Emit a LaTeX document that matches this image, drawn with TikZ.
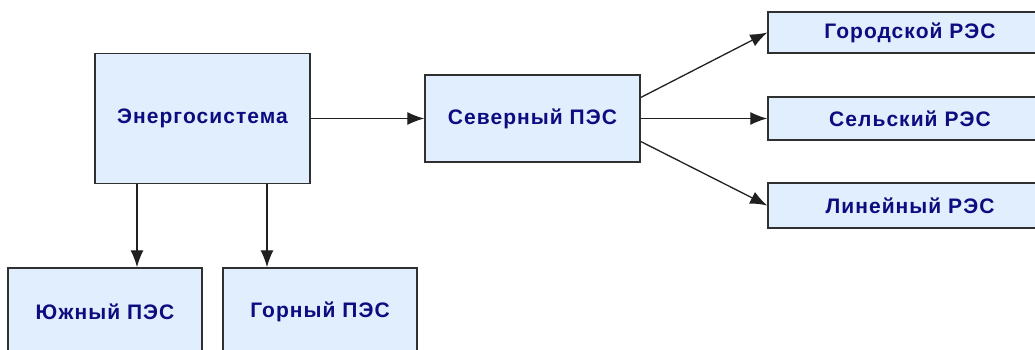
\documentclass[tikz,border=0pt]{standalone}
\usepackage{fontspec}
\setmainfont{Liberation Sans}
\newfontfamily\boxfont[LetterSpace=5]{Liberation Sans}
\usetikzlibrary{arrows.meta}
\definecolor{boxfill}{HTML}{E1EEFD}
\definecolor{boxline}{HTML}{303030}
\definecolor{boxtext}{HTML}{0C0C80}
\definecolor{arrline}{HTML}{202020}
\tikzset{
  orgbox/.style={draw=boxline, fill=boxfill, line width=1.5pt, inner sep=0pt,
    font=\boxfont\bfseries\fontsize{21}{24}\selectfont, text=boxtext},
  arr/.style={draw=arrline, line width=1.3pt, -{Latex[length=17pt,width=13pt]}}
}
\begin{document}
\begin{tikzpicture}[x=1pt,y=-1pt]
\useasboundingbox (0,0) rectangle (1035,350);
\clip (0,0) rectangle (1035,350);
\node[orgbox, minimum width=215pt, minimum height=130pt] (energo) at (202.5,118.5) {Энергосистема};
\node[orgbox, minimum width=215pt, minimum height=87pt] (sever) at (532.5,118.5) {Северный ПЭС};
\node[orgbox, minimum width=284pt, minimum height=41pt] (gor) at (910,32.5) {Городской РЭС};
\node[orgbox, minimum width=284pt, minimum height=43pt] (sel) at (910,118.5) {Сельский РЭС};
\node[orgbox, minimum width=284pt, minimum height=45pt] (lin) at (910,205.5) {Линейный РЭС};
\node[orgbox, minimum width=194pt, minimum height=88pt] (yuzh) at (105,312) {Южный ПЭС};
\node[orgbox, minimum width=194pt, minimum height=88pt] (gorn) at (320,312) {Горный ПЭС};
\draw[arr] (energo.east) -- (sever.west);
\draw[arr] ([yshift=21pt]sever.east) -- (gor.west);
\draw[arr] (sever.east) -- (sel.west);
\draw[arr] ([yshift=-23pt]sever.east) -- (lin.west);
\draw[arr] ([xshift=-65.5pt]energo.south) -- ([xshift=-65.5pt]energo.south |- yuzh.north);
\draw[arr] ([xshift=64.5pt]energo.south) -- ([xshift=64.5pt]energo.south |- gorn.north);
\end{tikzpicture}
\end{document}
